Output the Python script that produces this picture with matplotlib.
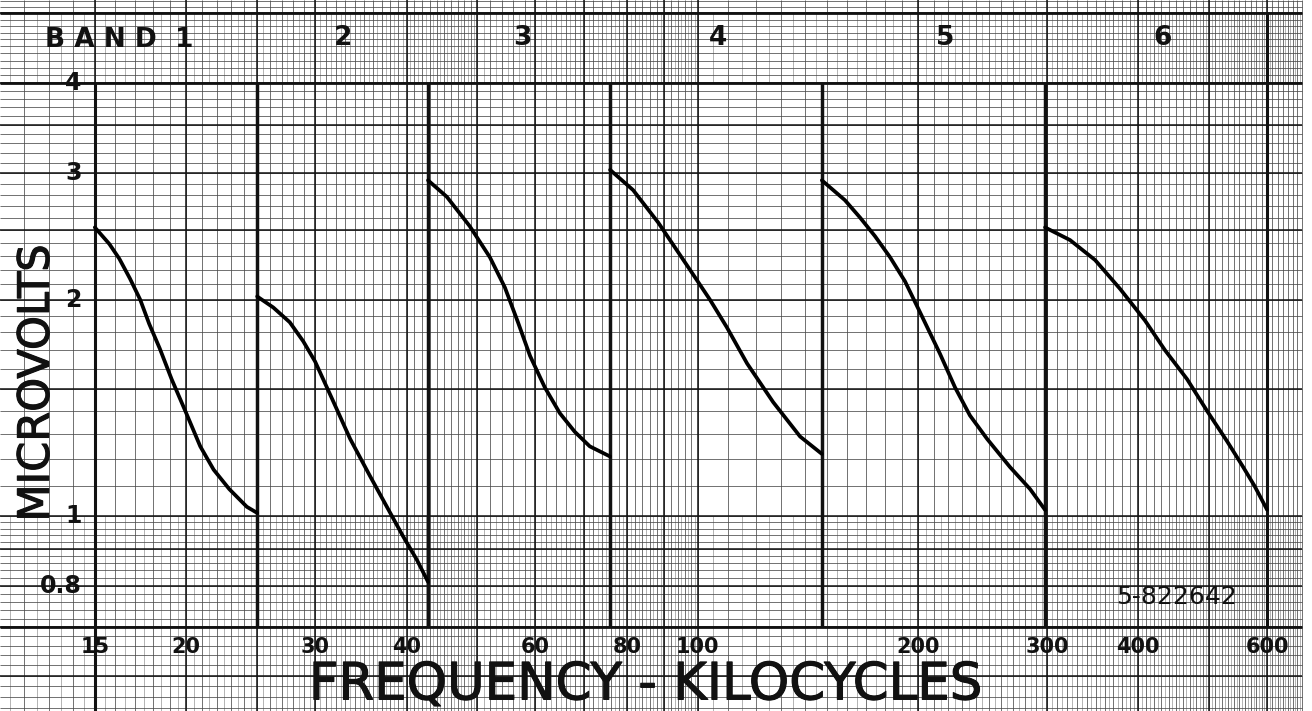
import matplotlib
matplotlib.use("Agg")
import matplotlib.pyplot as plt
import matplotlib.patheffects as pe
import numpy as np

# sensitivity curves, one per band (kilocycles, microvolts)
band1_kc = [15, 15.7, 16.2, 16.75, 17.3, 17.8, 18.4, 19.1, 20.0, 20.9, 21.8, 22.9, 24.2, 25]
band1_uv = [2.52, 2.39, 2.28, 2.14, 2.0, 1.85, 1.71, 1.55, 1.39, 1.25, 1.16, 1.09, 1.03, 1.01]

band2_kc = [25, 26.3, 27.7, 28.9, 30, 31.7, 33.5, 35.6, 37.6, 39.5, 41.3, 42.8]
band2_uv = [2.02, 1.95, 1.86, 1.75, 1.64, 1.45, 1.28, 1.14, 1.03, 0.94, 0.87, 0.81]

band3_kc = [42.8, 45.4, 48.8, 52, 54.5, 56.8, 59, 61.8, 64.8, 67.9, 71.2, 75.9]
band3_uv = [2.93, 2.78, 2.53, 2.29, 2.08, 1.86, 1.67, 1.51, 1.39, 1.31, 1.25, 1.21]

band4_kc = [75.9, 81.6, 88.3, 97.6, 103.9, 109.6, 116.8, 126.8, 138, 147.8]
band4_uv = [3.03, 2.84, 2.56, 2.2, 2.0, 1.83, 1.63, 1.44, 1.29, 1.22]

band5_kc = [147.8, 158.9, 166.7, 174.7, 183.2, 192, 201.3, 214.4, 224.7, 235.5, 248.6, 267.1, 284.6, 298.3]
band5_uv = [2.93, 2.75, 2.6, 2.45, 2.29, 2.12, 1.92, 1.68, 1.51, 1.38, 1.28, 1.17, 1.09, 1.02]

band6_kc = [298.3, 322.7, 349.2, 377.7, 408.6, 435.2, 466.4, 496.7, 529.1, 556.4, 577, 600]
band6_uv = [2.52, 2.42, 2.27, 2.07, 1.87, 1.70, 1.55, 1.40, 1.27, 1.17, 1.10, 1.02]

band_edges = [25, 42.8, 75.9, 147.8, 298.3]
band_names = ["BAND 1", "2", "3", "4", "5", "6"]

xtick_vals = [15, 20, 30, 40, 60, 80, 100, 200, 300, 400, 600]
ytick_vals = [4, 3, 2, 1, 0.8]
ytick_text = ["4", "3", "2", "1", "0.8"]

fig = plt.figure(figsize=(13.12, 7.11), dpi=100)
ax = fig.add_axes([0, 0, 1, 1])
ax.set_xscale("log")
ax.set_yscale("log")
ax.set_xlim(11.13, 691)
ax.set_ylim(0.5356, 5.22)
ax.axis("off")

ink = "#111111"
paper_x = (11.13, 670)
paper_y = (0.5356, 5.22)

# log-log graph paper
vfine = np.concatenate([np.arange(11, 50, 1), np.arange(50, 100, 2),
                        np.arange(100, 200, 10), np.arange(200, 680, 10)])
ax.vlines(vfine, *paper_y, color="#4a4a4a", lw=0.55, zorder=1)
# the lower and upper strips are ruled more finely
vhalf = np.concatenate([np.arange(11.5, 50, 1), np.arange(51, 100, 2),
                        np.arange(105, 200, 5), np.arange(205, 670, 10)])
ax.vlines(vhalf, 0.5356, 1.0, color="#7a7a7a", lw=0.4, zorder=1)
ax.vlines(vhalf, 4.0, 5.0, color="#7a7a7a", lw=0.4, zorder=1)

hfine = np.concatenate([np.arange(0.54, 1.0, 0.02), np.arange(1.0, 5.3, 0.1)])
ax.hlines(hfine, *paper_x, color="#4a4a4a", lw=0.55, zorder=1)

vmajor = [15, 20, 25, 30, 40, 50, 60, 70, 80, 90, 100, 200, 300, 400, 500, 600]
hmajor = [0.6, 0.7, 0.8, 0.9, 1, 1.5, 2, 2.5, 3, 3.5, 4, 5]
ax.vlines(vmajor, *paper_y, color=ink, lw=1.1, zorder=2)
ax.hlines(hmajor, *paper_x, color=ink, lw=1.1, zorder=2)

# frame of the chart
ax.hlines([0.7, 4.0, 5.0], *paper_x, color=ink, lw=2.0, zorder=3)
ax.vlines(15, 0.5356, 4.0, color=ink, lw=2.2, zorder=3)
ax.vlines(600, 0.7, 5.0, color=ink, lw=2.2, zorder=3)
ax.vlines(band_edges, 0.7, 4.0, color=ink, lw=2.5, zorder=3)

bands = [(band1_kc, band1_uv), (band2_kc, band2_uv), (band3_kc, band3_uv),
         (band4_kc, band4_uv), (band5_kc, band5_uv), (band6_kc, band6_uv)]
for kc, uv in bands:
    ax.plot(kc, uv, color="black", lw=2.7, solid_capstyle="round",
            solid_joinstyle="round", zorder=4)

# header
hdr_font = dict(family="DejaVu Sans", fontweight="heavy", color=ink,
                va="center", transform=ax.transAxes, zorder=5)
ax.text(0.034, 0.944, "B A N D  1", ha="left", fontsize=19, **hdr_font)
for xf, name in zip([0.2614, 0.3979, 0.5473, 0.7203, 0.8864], band_names[1:]):
    ax.text(xf, 0.947, name, ha="center", fontsize=19, **hdr_font)

# tick labels
for v, t in zip(ytick_vals, ytick_text):
    ax.text(14.4, v, t, ha="right", va="center", fontsize=17,
            fontweight="heavy", color=ink, zorder=5)
for v in xtick_vals:
    ax.text(v, 0.657, str(v), ha="center", va="center", fontsize=15,
            fontweight="heavy", color=ink, zorder=5)

thick = [pe.withStroke(linewidth=0.8, foreground=ink)]
ax.text(0.492, 0.036, "FREQUENCY - KILOCYCLES", transform=ax.transAxes,
        ha="center", va="center", fontsize=37, color=ink, zorder=5,
        path_effects=thick)
ax.text(0.028, 0.461, "MICROVOLTS", transform=ax.transAxes, rotation=90,
        ha="center", va="center", fontsize=31, color=ink, zorder=5,
        path_effects=thick)
ax.text(0.897, 0.16, "5-822642", transform=ax.transAxes, ha="center",
        va="center", fontsize=18, color=ink, zorder=5)

fig.savefig("out.png", dpi=100, facecolor="white")
